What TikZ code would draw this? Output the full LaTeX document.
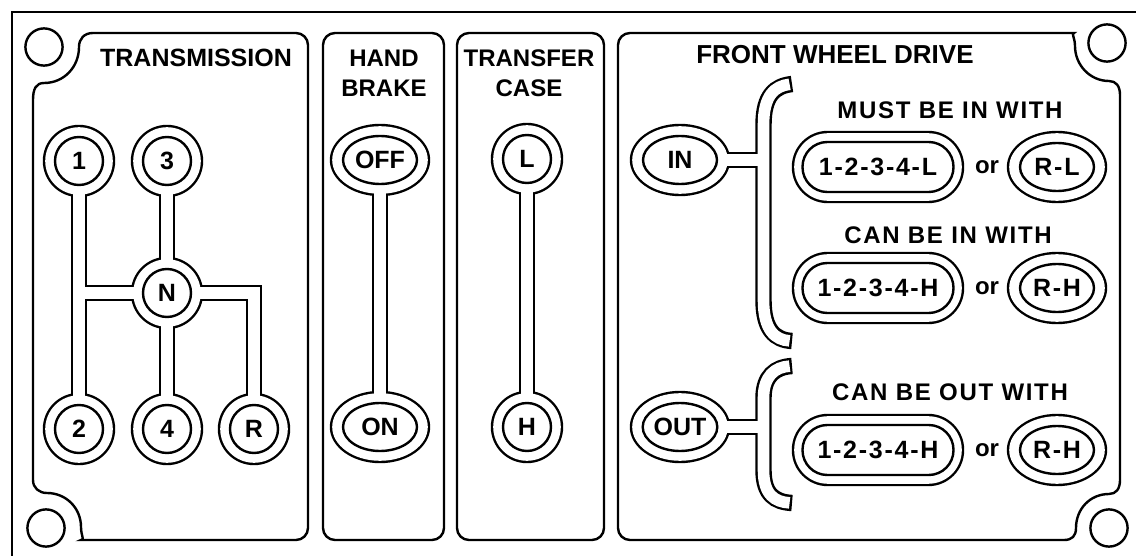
\documentclass[tikz,border=0pt]{standalone}
\usepackage{fontspec}
\setmainfont{Liberation Sans}
\newfontfamily\spacedfont[LetterSpace=7]{Liberation Sans}
\usetikzlibrary{shapes}
\pgfdeclarelayer{rimlayer}
\pgfdeclarelayer{slotlayer}
\pgfsetlayers{rimlayer,slotlayer,main}
\tikzstyle{panel} = [draw, line width=1.2pt]
\tikzstyle{heading} = [font=\fontsize{12}{15}\selectfont\bfseries, align=center]
\tikzstyle{remark} = [font=\spacedfont\fontsize{12}{14}\selectfont\bfseries]
\tikzstyle{conj} = [font=\fontsize{12}{14}\selectfont\bfseries]
\tikzstyle{knob} = [draw, circle, line width=1.2pt, minimum size=24pt, inner sep=0pt, font=\fontsize{12.5}{14}\selectfont\bfseries]
\tikzstyle{lever} = [draw, ellipse, line width=1.2pt, minimum width=37pt, minimum height=24pt, inner sep=0pt, font=\fontsize{12.5}{14}\selectfont\bfseries]
\tikzstyle{combo} = [draw, rectangle, rounded corners=12.4pt, line width=1.2pt, minimum width=75.5pt, minimum height=25pt, inner sep=0pt, font=\spacedfont\fontsize{12.5}{14}\selectfont\bfseries]
\tikzstyle{rim} = [line width=8.2pt, line join=miter]
\tikzstyle{slot} = [line width=5.8pt, line join=miter, white]
\tikzstyle{rim tip} = []
\tikzstyle{slot tip} = [shorten <=1.2pt, shorten >=1.2pt]

% the slots the levers run in, drawn once black and once white
\newcommand{\leverpaths}[1]{%
  \draw[#1] (g1) -- (g2);
  \draw[#1] (g3) -- (g4);
  \draw[#1] (gN) -- (gN -| g1);
  \draw[#1] (gN) -| (gR);
  \draw[#1] (hOff) -- (hOn);
  \draw[#1] (tL) -- (tH);
  \draw[#1] (fIn) -- (fIn -| inBar);
  \draw[#1] (fOut) -- (fOut -| outBar);
  \draw[#1, #1 tip] (inTop) .. controls (775,86) and (763.5,95) .. (763.5,125)
      -- (763.5,300) .. controls (763.5,330) and (775,340) .. (inBot);
  \draw[#1, #1 tip] (outTop) .. controls (775,367) and (763.5,376) .. (763.5,398)
      -- (763.5,470) .. controls (763.5,495) and (775,502) .. (outBot);
}

\begin{document}
\begin{tikzpicture}[x=0.5pt, y=-0.5pt]
    \useasboundingbox (0,0) rectangle (1136,556);
    \clip (0,0) rectangle (1136,556);

    % plate edge and mounting holes
    \draw[panel] (12,12) rectangle (1160,580);
    \foreach \h in {(44,47),(46,528),(1107,43),(1109,528)}
        \draw[line width=1.2pt] \h circle (9.3pt);

    % panels
    \draw[panel] (33,100) .. controls (33,89) and (36,83) .. (44,83)
        .. controls (64,83) and (79,67) .. (79,47)
        .. controls (79,39) and (84,33) .. (93,33)
        [rounded corners=6pt] -- (308,33) -- (308,540) -- (93,540) [sharp corners]
        .. controls (85,540) and (81,536) .. (81,527)
        .. controls (81,508) and (66,493) .. (47,493)
        .. controls (39,493) and (33,488) .. (33,480) -- cycle;
    \draw[panel, rounded corners=6pt] (323,33) rectangle (444,540);
    \draw[panel, rounded corners=6pt] (457,33) rectangle (604,540);
    \draw[panel] (1062,33) .. controls (1071,33) and (1075,38) .. (1075,46)
        .. controls (1075,65) and (1090,81) .. (1109,81)
        .. controls (1116,81) and (1120,86) .. (1120,95)
        -- (1120,480)
        .. controls (1120,489) and (1116,494) .. (1109,494)
        .. controls (1090,494) and (1076,509) .. (1076,528)
        .. controls (1076,536) and (1072,540) .. (1064,540)
        [rounded corners=6pt] -- (618,540) -- (618,33) -- cycle;

    % headings
    \node[heading, font=\fontsize{12.5}{15}\selectfont\bfseries] (trans) at (196,58) {TRANSMISSION};
    \node[heading] (brake) at (384,73) {HAND\\BRAKE};
    \node[heading] (xfer) at (529,73) {TRANSFER\\CASE};
    \node[heading, font=\fontsize{13}{15}\selectfont\bfseries] (fwd) at (835,55) {FRONT WHEEL DRIVE};

    % gear shift positions
    \node[knob] (g1) at (79,161) {1};
    \node[knob, right of=g1, node distance=44pt] (g3) {3};
    \node[knob, below of=g3, node distance=66pt] (gN) {N};
    \node[knob, below of=g1, node distance=134pt] (g2) {2};
    \node[knob, right of=g2, node distance=44pt] (g4) {4};
    \node[knob, right of=g4, node distance=43.5pt] (gR) {R};

    % hand brake and transfer case
    \node[lever] (hOff) at (380,160) {OFF};
    \node[lever, below of=hOff, node distance=133.5pt] (hOn) {ON};
    \node[knob] (tL) at (527,159) {L};
    \node[knob, below of=tL, node distance=134pt] (tH) {H};

    % front wheel drive
    \node[lever] (fIn) at (680,160) {IN};
    \node[lever, below of=fIn, node distance=133.5pt] (fOut) {OUT};
    \coordinate (inBar) at (763.5,200);
    \coordinate (outBar) at (763.5,430);
    \coordinate (inTop) at (792,84);
    \coordinate (inBot) at (792,341);
    \coordinate (outTop) at (792,366);
    \coordinate (outBot) at (792,503);

    \node[remark] (must) at (950,110) {MUST BE IN WITH};
    \node[combo] (p1) at (878,167) {1-2-3-4-L};
    \node[conj, right of=p1, node distance=54.5pt] (or1) {or};
    \node[lever, font=\spacedfont\fontsize{12.5}{14}\selectfont\bfseries, right of=p1, node distance=89.5pt] (r1) {R-L};

    \node[remark] (canin) at (948,235) {CAN BE IN WITH};
    \node[combo] (p2) at (878,288) {1-2-3-4-H};
    \node[conj, right of=p2, node distance=54.5pt] (or2) {or};
    \node[lever, font=\spacedfont\fontsize{12.5}{14}\selectfont\bfseries, right of=p2, node distance=89.5pt] (r2) {R-H};

    \node[remark] (canout) at (950,392) {CAN BE OUT WITH};
    \node[combo] (p3) at (878,450) {1-2-3-4-H};
    \node[conj, right of=p3, node distance=54.5pt] (or3) {or};
    \node[lever, font=\spacedfont\fontsize{12.5}{14}\selectfont\bfseries, right of=p3, node distance=89.5pt] (r3) {R-H};

    % outer rims and slots, black first then white on top
    \begin{pgfonlayer}{rimlayer}
        \foreach \n in {g1,g3,gN,g2,g4,gR,tL,tH}
            \fill (\n) circle (18.1pt);
        \foreach \n in {hOff,hOn,fIn,fOut,r1,r2,r3}
            \fill (\n) ellipse (25.1pt and 18.1pt);
        \foreach \n in {p1,p2,p3}
            \fill[rounded corners=18pt] ([shift={(-43.1pt,-18.1pt)}]\n.center) rectangle ([shift={(43.1pt,18.1pt)}]\n.center);
        \leverpaths{rim}
    \end{pgfonlayer}
    \begin{pgfonlayer}{slotlayer}
        \foreach \n in {g1,g3,gN,g2,g4,gR,tL,tH}
            \fill[white] (\n) circle (16.9pt);
        \foreach \n in {hOff,hOn,fIn,fOut,r1,r2,r3}
            \fill[white] (\n) ellipse (23.9pt and 16.9pt);
        \foreach \n in {p1,p2,p3}
            \fill[white, rounded corners=16.8pt] ([shift={(-41.9pt,-16.9pt)}]\n.center) rectangle ([shift={(41.9pt,16.9pt)}]\n.center);
        \leverpaths{slot}
    \end{pgfonlayer}
\end{tikzpicture}
\end{document}
